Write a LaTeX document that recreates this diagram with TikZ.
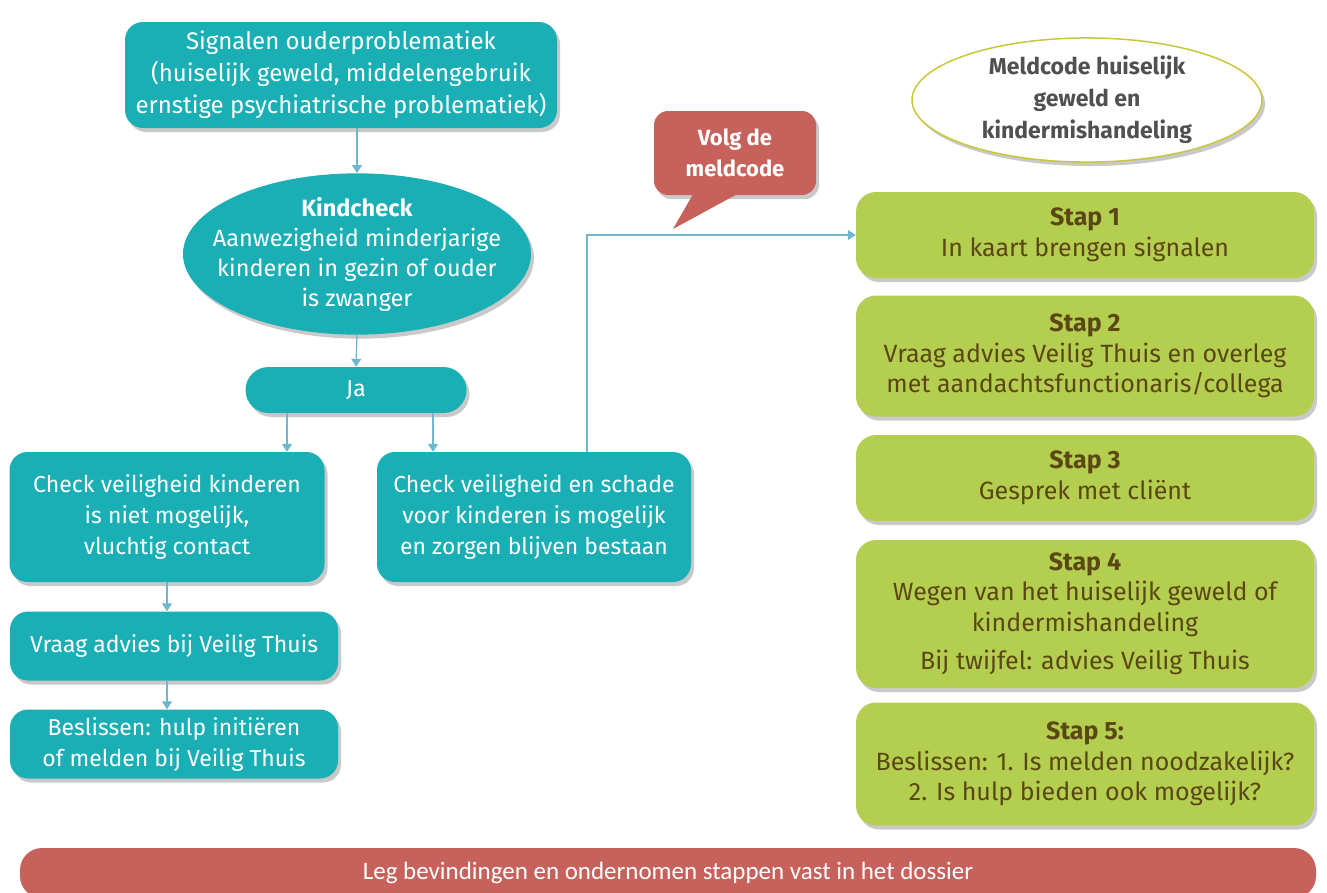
\documentclass[tikz,border=0pt]{standalone}
\usepackage{fontspec}
\setmainfont{Fira Sans}
\newfontfamily\barfont{Carlito}[Ligatures=NoCommon]
\usetikzlibrary{shapes.geometric,shadows,arrows.meta}
\definecolor{tealc}{HTML}{1AAFB4}
\definecolor{greenc}{HTML}{B4CE50}
\definecolor{redc}{HTML}{C6625B}
\definecolor{arrc}{HTML}{6DB7CF}
\definecolor{brownc}{HTML}{5B4714}
\definecolor{ellb}{HTML}{C9C63C}
\definecolor{grayt}{HTML}{505050}
\begin{document}
\begin{tikzpicture}[x=1pt,y=-1pt,
 shad/.style={drop shadow={shadow xshift=3pt,shadow yshift=-4pt,opacity=0.3,fill=black!70}},
 txt/.style={font=\fontsize{23}{31}\selectfont},
 tbox/.style={fill=tealc,text=white,rounded corners=18pt,align=center,shad,txt,inner sep=0pt},
 gbox/.style={fill=greenc,text=brownc,rounded corners=20pt,align=center,shad,inner sep=0pt,minimum width=458pt,
   font=\fontsize{25}{30.5}\selectfont},
 arr/.style={draw=arrc,line width=1.3pt,-{Triangle[width=10pt,length=8pt]}},
]
\useasboundingbox (0,0) rectangle (1327,892);

% left flow
\node[tbox,minimum width=432pt,minimum height=106pt,font=\fontsize{24}{32}\selectfont] (A) at (341,75)
  {Signalen ouderproblematiek\\(huiselijk geweld, middelengebruik\\ernstige psychiatrische problematiek)};
\node[ellipse,fill=tealc,text=white,shad,minimum width=348pt,minimum height=160pt,inner xsep=-26pt,inner ysep=0pt,
  align=center,font=\fontsize{23.5}{30}\selectfont] (K) at (357,254)
  {\textbf{Kindcheck}\\Aanwezigheid minderjarige\\kinderen in gezin of ouder\\is zwanger};
\node[tbox,rounded corners=23pt,minimum width=221pt,minimum height=46pt] (J) at (356,390) {Ja};
\node[tbox,minimum width=315pt,minimum height=130pt] (B) at (167,517)
  {Check veiligheid kinderen\\is niet mogelijk,\\vluchtig contact};
\node[tbox,minimum width=314pt,minimum height=130pt] (C) at (534,517)
  {Check veiligheid en schade\\voor kinderen is mogelijk\\en zorgen blijven bestaan};
\node[tbox,minimum width=328pt,minimum height=69pt] (D) at (174,646) {Vraag advies bij Veilig Thuis};
\node[tbox,minimum width=328pt,minimum height=69pt] (E) at (174,744)
  {Beslissen: hulp initiëren\\of melden bij Veilig Thuis};

% speech bubble
\coordinate (tip) at (673,229);
\node[fill=redc,text=white,rounded corners=14pt,minimum width=162pt,minimum height=84pt,inner sep=0pt,
  align=center,shad,font=\bfseries\fontsize{22}{31}\selectfont] (V) at (735,153) {Volg de\\meldcode};
\fill[redc] ([xshift=-42pt,yshift=1pt]V.south) -- ([xshift=2pt,yshift=1pt]V.south) -- (tip) -- cycle;

% title ellipse
\node[ellipse,draw=ellb,line width=1.5pt,fill=white,shad,minimum width=350pt,minimum height=124pt,
  inner sep=0pt,align=center,text=grayt,font=\bfseries\fontsize{23}{32}\selectfont] (M) at (1087,100)
  {Meldcode huiselijk\\geweld en\\kindermishandeling};

% steps
\node[gbox,minimum height=86pt] (s1) at (1085,235) {\textbf{Stap 1}\\In kaart brengen signalen};
\node[gbox,minimum height=121pt] (s2) at (1085,356)
  {\textbf{Stap 2}\\Vraag advies Veilig Thuis en overleg\\met aandachtsfunctionaris/collega};
\node[gbox,minimum height=86pt] (s3) at (1085,478) {\textbf{Stap 3}\\Gesprek met cliënt};
\node[gbox,minimum height=148pt] (s4) at (1085,614)
  {\textbf{Stap 4}\\Wegen van het huiselijk geweld of\\kindermishandeling\\[8pt]Bij twijfel: advies Veilig Thuis};
\node[gbox,minimum height=123pt] (s5) at (1085,764)
  {\textbf{Stap 5:}\\Beslissen: 1. Is melden noodzakelijk?\\2. Is hulp bieden ook mogelijk?};

% bottom bar
\node[fill=redc,text=white,rounded corners=22pt,minimum width=1296pt,minimum height=50pt,inner sep=0pt,
  font=\barfont\fontsize{25}{28}\selectfont] (L) at (668,873)
  {\raisebox{3pt}{Leg bevindingen en ondernomen stappen vast in het dossier}};

% connectors
\draw[arr] (A.south -| K.north) -- (K.north);
\draw[arr] (K.south) -- (J.north);
\draw[arr] ([xshift=-69pt]J.south) -- ([xshift=-69pt]J.south |- B.north);
\draw[arr] ([xshift=77pt]J.south) -- ([xshift=77pt]J.south |- C.north);
\draw[arr] (B.south) -- (B.south |- D.north);
\draw[arr] (D.south -| B.south) -- (B.south |- E.north);
\draw[arr] ([xshift=53pt]C.north) |- (s1.west);
\end{tikzpicture}
\end{document}
